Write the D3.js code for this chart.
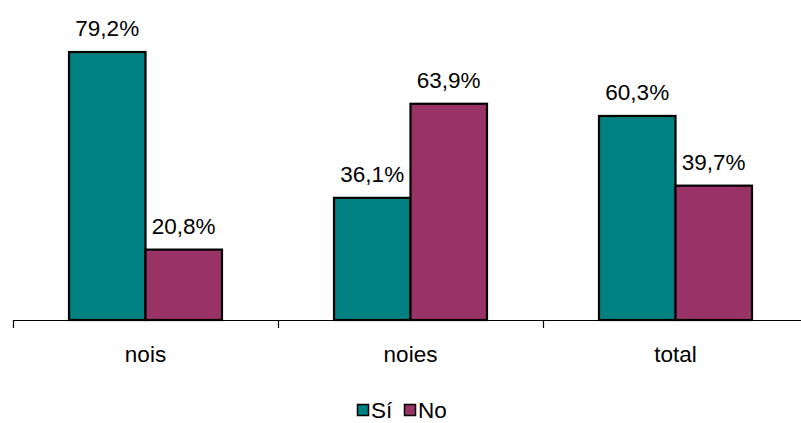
<!DOCTYPE html>
<html><head><meta charset="utf-8">
<script src="https://cdn.jsdelivr.net/npm/d3@7"></script>
<style>body{margin:0;background:#fff}svg{display:block}text{font-family:"Liberation Sans",Arial,sans-serif}</style>
</head><body>
<script>
const categories = ["nois", "noies", "total"];
const seriesNames = ["Sí", "No"];
const siValues = [79.2, 36.1, 60.3];
const noValues = [20.8, 63.9, 39.7];
const colors = ["#008080", "#993366"];

const W = 801, H = 423;
const FS = 22.5;
const svg = d3.select("body").append("svg").attr("width", W).attr("height", H);

const x = d3.scaleBand().domain(categories).range([13, 808]).paddingInner(0).paddingOuter(0);
const inner = d3.scaleBand().domain(seriesNames).range([0, x.bandwidth()]).paddingInner(0).paddingOuter(0.7322);
const y = d3.scaleLinear().domain([0, 80]).range([320, 49.3]);

const data = [];
categories.forEach((c, i) => {
  data.push({cat: c, s: "Sí", v: siValues[i], col: colors[0]});
  data.push({cat: c, s: "No", v: noValues[i], col: colors[1]});
});

svg.selectAll("rect.bar").data(data).enter().append("rect")
  .attr("class", "bar")
  .attr("x", d => x(d.cat) + inner(d.s))
  .attr("y", d => y(d.v))
  .attr("width", inner.bandwidth())
  .attr("height", d => y(0) - y(d.v))
  .attr("fill", d => d.col)
  .attr("stroke", "#000")
  .attr("stroke-width", 2.2);

svg.selectAll("text.val").data(data).enter().append("text")
  .attr("x", d => x(d.cat) + inner(d.s) + inner.bandwidth() / 2)
  .attr("y", d => y(d.v) - 16)
  .attr("text-anchor", "middle")
  .attr("font-size", FS)
  .text(d => d.v.toFixed(1).replace(".", ",") + "%");

// axis
const axis = d3.axisBottom(x).tickSize(0).tickFormat(d => d);
const g = svg.append("g").attr("transform", "translate(0,320)").call(axis);
g.select(".domain").remove();
g.selectAll(".tick text").attr("font-size", FS).attr("fill", "#000").attr("dy", 0).attr("y", 42)
  .style("font-family", '"Liberation Sans",Arial,sans-serif');
svg.append("line").attr("x1", 13).attr("x2", 808).attr("y1", 320.5).attr("y2", 320.5).attr("stroke", "#000").attr("stroke-width", 1.2);
const tickPos = categories.map(c => x(c)).concat([x.range()[1]]);
svg.selectAll("line.tk").data(tickPos).enter().append("line")
  .attr("x1", d => d + 0.5).attr("x2", d => d + 0.5).attr("y1", 320).attr("y2", 328)
  .attr("stroke", "#000").attr("stroke-width", 1.2);

// legend
const legend = svg.append("g");
const lx = [357.5, 404.5];
seriesNames.forEach((s, i) => {
  legend.append("rect").attr("x", lx[i]).attr("y", 404.5).attr("width", 11).attr("height", 11)
    .attr("fill", colors[i]).attr("stroke", "#000").attr("stroke-width", 1.5);
  legend.append("text").attr("x", lx[i] + 13.5).attr("y", 417.5).attr("font-size", FS).text(s);
});
</script>
</body></html>
